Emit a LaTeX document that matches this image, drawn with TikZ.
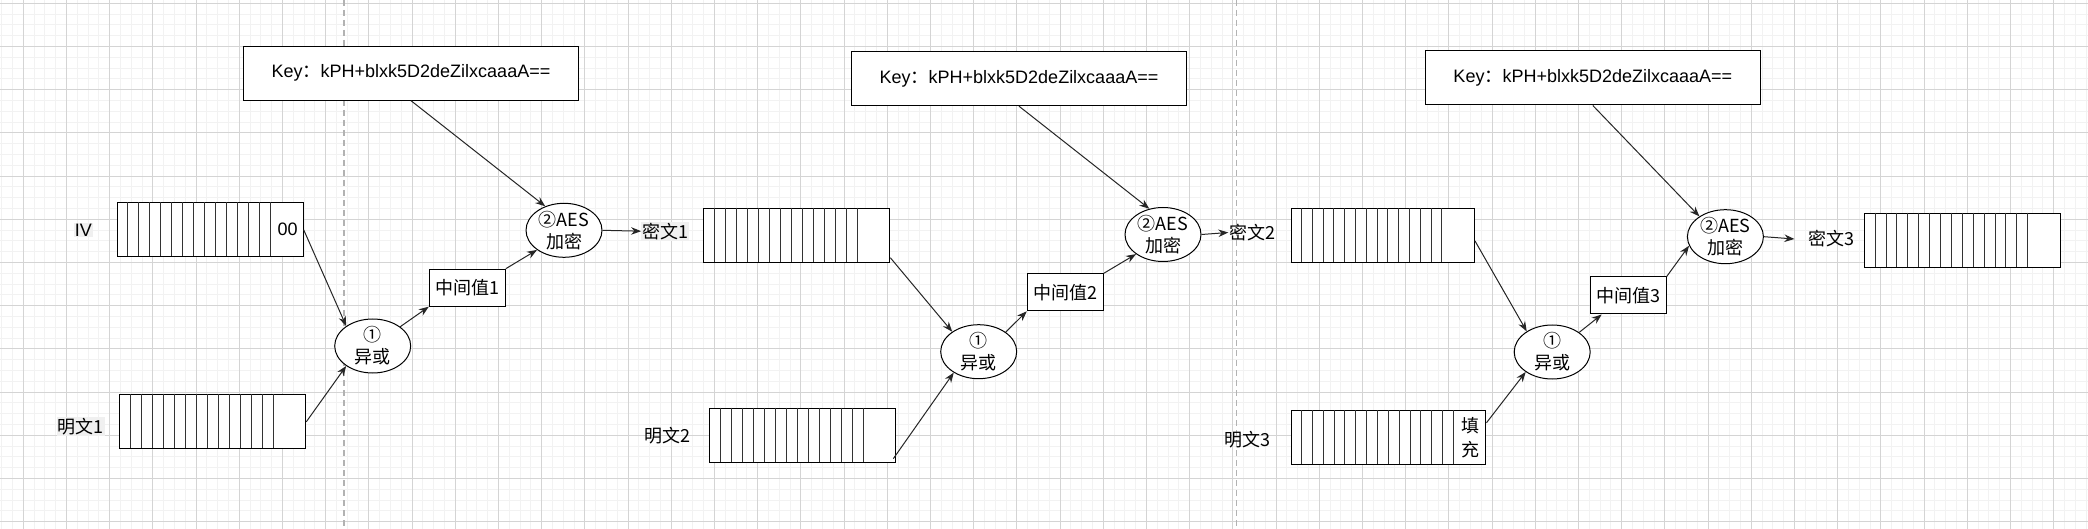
\documentclass[tikz,border=0pt]{standalone}
\usepackage{fontspec}
\setmainfont{Liberation Sans}
\newfontfamily\cjk{Noto Sans CJK SC}
\usepackage{tikz}
\usetikzlibrary{shapes.geometric,arrows.meta}
\usetikzlibrary{calc}

\tikzset{
	majorline/.style={black!17, line width=0.9pt},
	minorline/.style={black!5, line width=0.9pt},
	pageline/.style={black!30, line width=1.3pt, dash pattern=on 6pt off 4pt},
	regframe/.style={draw=black, fill=white, line width=1pt, minimum height=54pt, inner sep=0pt},
	cellline/.style={draw=black!80, line width=1pt},
	cellnote/.style={inner sep=0pt, align=center, font=\fontsize{18}{24}\selectfont},
	keybox/.style={draw=black, fill=white, line width=1pt, minimum width=335pt, minimum height=54pt, font=\fontsize{18}{20}\selectfont},
	midbox/.style={draw=black, fill=white, line width=1pt, minimum width=76pt, minimum height=37pt, inner sep=0pt, font=\cjk\fontsize{18}{20}\selectfont},
	opnode/.style={ellipse, draw=black, fill=white, line width=1pt, minimum width=76pt, minimum height=54pt, inner sep=-6pt, align=center, font=\cjk\fontsize{18}{22}\selectfont},
	tag/.style={inner sep=1pt, font=\cjk\fontsize{18}{20}\selectfont},
	tagbg/.style={tag, fill=black!6},
	flow/.style={draw=black!85, line width=1pt, -{Stealth[length=10pt,width=7.5pt]}},
}

% register: name, left, top, narrow cells, cell width, text of last cell
\newcommand{\register}[6]{%
	\node[regframe, anchor=north west, minimum width={#4*#5pt+32pt}] (#1) at (#2,#3) {};
	\foreach \k in {1,...,#4}
		\draw[cellline] ($(#1.north west)+(\k*#5,0)$) -- ++(0,54);
	\node[cellnote] at ($(#1.east)+(-16,0)$) {#6};
}

\begin{document}
\begin{tikzpicture}[x=1pt, y=-1pt]
	\useasboundingbox (0,0) rectangle (2088,529);
	\fill[white] (0,0) rectangle (2088,529);
	
	% grid
	\foreach \i in {0,...,193} \draw[minorline] ({1.7+10.8*\i},0) -- ++(0,529);
	\foreach \j in {0,...,48} \draw[minorline] (0,{3.3+10.8*\j}) -- ++(2088,0);
	\foreach \i in {0,...,47} \draw[majorline] ({23.3+43.2*\i},0) -- ++(0,529);
	\foreach \j in {0,...,12} \draw[majorline] (0,{3.3+43.2*\j}) -- ++(2088,0);
	\draw[pageline] (344,0) -- (344,529);
	\draw[pageline] (1236.5,0) -- (1236.5,529);
	
	% round 1
	\register{iv}{116.7}{202.3}{14}{11}{00}
	\register{pt1}{119.3}{394.3}{14}{11}{}
	\node[tagbg, font=\fontsize{18}{20}\selectfont] (liv) at (83.3,230.3) {IV};
	\node[tagbg] (lpt1) at (80.8,426.7) {明文1};
	\node[keybox] (key1) at (411,73.2) {Key{\cjk ：}kPH+blxk5D2deZilxcaaaA==};
	\node[opnode] (xor1) at (372.7,346) {①\\异或};
	\node[midbox] (mid1) at (467.3,287.7) {中间值1};
	\node[opnode] (aes1) at (564,230.3) {②AES\\加密};
	\node[tagbg] (lct1) at (665.3,231.2) {密文1};
	
	% round 2
	\register{ct1}{703.3}{207.7}{14}{11}{}
	\register{pt2}{709.3}{407.7}{14}{11}{}
	\node[tag] (lpt2) at (667.5,436) {明文2};
	\node[keybox] (key2) at (1019,78.7) {Key{\cjk ：}kPH+blxk5D2deZilxcaaaA==};
	\node[opnode] (xor2) at (978.7,351.7) {①\\异或};
	\node[midbox] (mid2) at (1065.3,292.3) {中间值2};
	\node[opnode] (aes2) at (1163,234.5) {②AES\\加密};
	\node[tag] (lct2) at (1252.5,232.5) {密文2};
	
	% round 3
	\register{ct2}{1290.7}{208.3}{14}{10.8}{}
	\register{pt3}{1290.7}{410.3}{15}{10.85}{{\cjk 填}\\{\cjk 充}}
	\node[tag] (lpt3) at (1247.5,440) {明文3};
	\node[keybox] (key3) at (1592.8,78) {Key{\cjk ：}kPH+blxk5D2deZilxcaaaA==};
	\node[opnode] (xor3) at (1552.2,352) {①\\异或};
	\node[midbox] (mid3) at (1628.2,295.5) {中间值3};
	\node[opnode] (aes3) at (1725.4,236.7) {②AES\\加密};
	\node[tag] (lct3) at (1831.6,239) {密文3};
	\register{ct3}{1864.2}{212.7}{15}{10.9}{}
	
	% connectors
	\draw[flow] (iv.east) -- (xor1.143);
	\draw[flow] (pt1.east) -- (xor1.217);
	\draw[flow] (xor1.35) -- (mid1.south west);
	\draw[flow] (mid1.north east) -- (aes1.216);
	\draw[flow] (key1.south) -- (aes1.128);
	\draw[flow] (aes1.east) -- (lct1.west);
	
	\draw[flow] ([yshift=5pt]ct1.south east) -- (xor2.143);
	\draw[flow] ([xshift=-3pt,yshift=4pt]pt2.south east) -- (xor2.220);
	\draw[flow] (xor2.36) -- (mid2.south west);
	\draw[flow] (mid2.north east) -- (aes2.216);
	\draw[flow] (key2.south) -- (aes2.118);
	\draw[flow] (aes2.east) -- (lct2.west);
	
	\draw[flow] ([yshift=-5pt]ct2.east) -- (xor3.141);
	\draw[flow] ([yshift=15pt]pt3.east) -- (xor3.217);
	\draw[flow] (xor3.36) -- ([xshift=12pt]mid3.south west);
	\draw[flow] (mid3.north east) -- (aes3.194);
	\draw[flow] (key3.south) -- (aes3.142);
	\draw[flow] (aes3.east) -- ([xshift=-13pt]lct3.west);
\end{tikzpicture}
\end{document}
